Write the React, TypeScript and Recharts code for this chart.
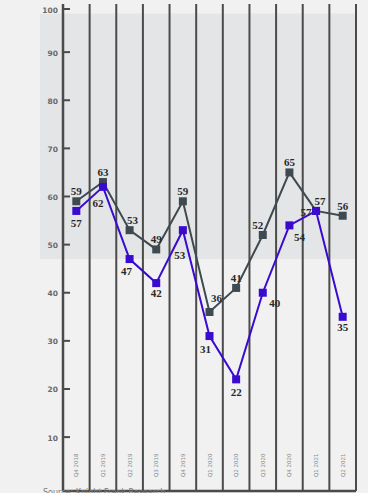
import {
  ComposedChart,
  Line,
  XAxis,
  YAxis,
  CartesianGrid,
  ReferenceArea,
  LabelList,
} from 'recharts'

// quarters along the x axis
const quarters = [
  'Q4 2018',
  'Q1 2019',
  'Q2 2019',
  'Q3 2019',
  'Q4 2019',
  'Q1 2020',
  'Q2 2020',
  'Q3 2020',
  'Q4 2020',
  'Q1 2021',
  'Q2 2021',
]

// grey series (upper line)
const greyValues = [59, 63, 53, 49, 59, 36, 41, 52, 65, 57, 56]
// purple series
const purpleValues = [57, 62, 47, 42, 53, 31, 22, 40, 54, 57, 35]

const yTicks = [0, 10, 20, 30, 40, 50, 60, 70, 80, 90, 100]

// shaded band behind the chart
const bandLow = 47
const bandHigh = 98

const sourceNote = 'Source: Knight Frank Research'

const data = quarters.map((q, i) => ({
  quarter: q,
  grey: greyValues[i],
  purple: purpleValues[i],
}))

// label nudges, [dx, dy] from the marker centre
const greyLabelShift: Record<number, [number, number]> = {
  2: [3, -10],
  5: [7, -14],
  7: [-5, -10],
  9: [4, -10],
}
const purpleLabelShift: Record<number, [number, number]> = {
  1: [-5, 16],
  2: [-3, 12],
  3: [0, 10],
  4: [-3, 25],
  5: [-4, 13],
  6: [0, 13],
  7: [12, 10],
  8: [10, 12],
  9: [-10, 1],
  10: [0, 10],
}

const GREY = '#3f4a50'
const PURPLE = '#3a0bcf'
const AXIS = '#4b4b4b'

const SquareDot = ({ cx, cy, fill }: any) => {
  if (cx == null || cy == null) return null
  return <rect x={cx - 4} y={cy - 4} width={8} height={8} fill={fill} />
}

const makeLabel = (shifts: Record<number, [number, number]>, def: [number, number]) =>
  (p: any) => {
    const { x, y, value, index } = p
    if (x == null || y == null) return null
    const [dx, dy] = shifts[index] ?? def
    return (
      <text
        x={x + dx}
        y={y + dy}
        textAnchor="middle"
        dominantBaseline="central"
        fill="#2a2a2a"
        fontFamily="'Liberation Serif', serif"
        fontWeight="bold"
        fontSize={11}
      >
        {value}
      </text>
    )
  }

const YTick = ({ x, y, payload }: any) => (
  <g>
    {payload.value > 0 && (
      <line x1={x} x2={x + 7} y1={y} y2={y} stroke={AXIS} strokeWidth={2} />
    )}
    <text
      x={x - 5}
      y={y + 1}
      textAnchor="end"
      dominantBaseline="central"
      fill="#6a6a6a"
      fontFamily="'DejaVu Sans', sans-serif"
      fontWeight="bold"
      fontSize={7.5}
    >
      {payload.value}
    </text>
  </g>
)

const XTick = ({ x, y, payload }: any) => (
  <text
    transform={`translate(${x + 2},${y - 14}) rotate(-90)`}
    textAnchor="start"
    fill="#8a8a8a"
    fontFamily="'DejaVu Sans', sans-serif"
    fontSize={5.5}
  >
    {payload.value}
  </text>
)

const BandShape = (p: any) => (
  <rect x={p.x - 23} y={p.y} width={p.width + 23} height={p.height} fill="#e4e5e7" />
)

export default function App() {
  return (
    <div
      style={{
        position: 'absolute',
        left: 0,
        top: 0,
        width: 368,
        height: 493,
        overflow: 'hidden',
        background: '#f1f1f1',
      }}
    >
      <ComposedChart
        width={368}
        height={493}
        data={data}
        margin={{ top: 4, right: 12, left: 0, bottom: 1 }}
      >
        <ReferenceArea
          y1={bandLow}
          y2={bandHigh}
          shape={BandShape}
          ifOverflow="visible"
          zIndex={-200}
        />
        <CartesianGrid
          horizontal={false}
          stroke={AXIS}
          strokeWidth={2}
          verticalCoordinatesGenerator={(props: any) => {
            const off = props.offset
            const n = quarters.length
            return quarters.map((_, i) => off.left + ((i + 1) * off.width) / n)
          }}
        />
        <XAxis
          dataKey="quarter"
          scale="band"
          height={1}
          interval={0}
          tickSize={0}
          tickMargin={0}
          tickLine={false}
          axisLine={{ stroke: AXIS, strokeWidth: 2.5 }}
          tick={<XTick />}
        />
        <YAxis
          width={63}
          domain={[-1.2, 100]}
          ticks={yTicks}
          allowDataOverflow
          tickSize={0}
          tickMargin={0}
          tickLine={false}
          axisLine={{ stroke: AXIS, strokeWidth: 2.5 }}
          tick={<YTick />}
        />
        <Line
          dataKey="grey"
          stroke={GREY}
          strokeWidth={2}
          dot={<SquareDot fill={GREY} />}
          activeDot={false}
          isAnimationActive={false}
        >
          <LabelList dataKey="grey" content={makeLabel(greyLabelShift, [0, -10])} />
        </Line>
        <Line
          dataKey="purple"
          stroke={PURPLE}
          strokeWidth={2}
          dot={<SquareDot fill={PURPLE} />}
          activeDot={false}
          isAnimationActive={false}
        >
          <LabelList dataKey="purple" content={makeLabel(purpleLabelShift, [0, 12])} />
        </Line>
      </ComposedChart>
      <div
        style={{
          position: 'absolute',
          left: 43,
          top: 488,
          fontFamily: "'DejaVu Sans', sans-serif",
          fontSize: 8,
          color: '#7a7a7a',
          whiteSpace: 'nowrap',
        }}
      >
        {sourceNote}
      </div>
    </div>
  )
}
